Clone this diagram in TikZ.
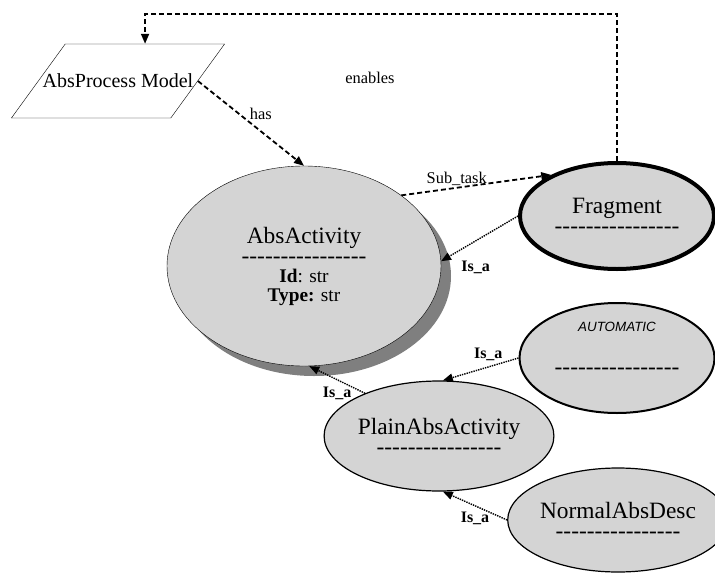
\documentclass[tikz,border=0pt]{standalone}
\usepackage{fontspec}
\setmainfont{Liberation Serif}
\setsansfont{Liberation Sans}
\usetikzlibrary{shapes.geometric, shadows, arrows.meta}

\definecolor{classfill}{RGB}{212,212,212}
\newcommand{\dashrow}{-{}-{}-{}-{}-{}-{}-{}-{}-{}-{}-{}-{}-{}-{}-{}-}

\begin{document}
\begin{tikzpicture}[
  x=1pt, y=-1pt,
  cls/.style={ellipse, draw, fill=classfill, inner sep=0pt, align=center,
    font=\fontsize{23.4}{20}\selectfont},
  model/.style={trapezium, draw, trapezium left angle=54, trapezium right angle=126,
    inner xsep=-22.5pt, inner ysep=30pt, font=\fontsize{20}{24}\selectfont},
  lbl/.style={font=\fontsize{16.4}{18}\selectfont},
  isalbl/.style={font=\bfseries\fontsize{16}{18}\selectfont},
  rel/.style={->, >={Triangle[length=10pt, width=8pt]}, line width=1.8pt,
    dash pattern=on 5pt off 3pt},
  isa/.style={->, >={Triangle[length=10pt, width=8pt]}, line width=1.4pt,
    dash pattern=on 1.4pt off 1pt}
]
\useasboundingbox (0,0) rectangle (715,573);

% Nodes
\node[model] (proc) at (118,81) {AbsProcess Model};
\node[cls, minimum width=274pt, minimum height=200pt,
  drop shadow={shadow xshift=10pt, shadow yshift=-10pt, fill=black, opacity=.5}]
  (act) at (304,266)
  {AbsActivity\\ \dashrow\\[-1pt]
   {\fontsize{19.3}{19}\selectfont\textbf{Id}: str}\\[-1pt]
   {\fontsize{19.3}{19}\selectfont\textbf{Type:} str}};
\node[cls, line width=4pt, minimum width=194pt, minimum height=106pt] (frag) at (617,216)
  {Fragment\\ \dashrow};
\node[cls, line width=2pt, minimum width=195pt, minimum height=110pt] (auto) at (617,358)
  {{\sffamily\itshape\fontsize{13.4}{16}\selectfont AUTOMATIC}\\[23pt] \dashrow\\ \mbox{}};
\node[cls, line width=1.2pt, minimum width=200pt, minimum height=110pt] (plain) at (439,436)
  {PlainAbsActivity\\ \dashrow};
\node[cls, line width=1.2pt, minimum width=192pt, minimum height=104pt] (norm) at (618,520)
  {NormalAbsDesc\\ \dashrow};
\node[lbl] (enables) at (370,78) {enables};

% Arrows
\draw[rel] (proc.right side) -- (act.north) node[lbl, pos=0.45, above right=0pt, yshift=-5pt] {has};
\draw[rel] (act.36.5) -- (frag.148) node[lbl, pos=0.37, above=-2pt] {Sub\_task};
\draw[rel] (frag.north) -- ++(0,-147) -| (proc.top side);
\draw[isa] (frag.west) -- (act.2) node[isalbl, pos=0.55, below=16pt] {Is\_a};
\draw[isa] (auto.west) -- (plain.86) node[isalbl, pos=0.4, above=2pt] {Is\_a};
\draw[isa] (plain.150) -- (act.-87) node[isalbl, pos=0.5, below=3pt] {Is\_a};
\draw[isa] (norm.west) -- (plain.-86) node[isalbl, pos=0.5, below=2pt] {Is\_a};

\end{tikzpicture}
\end{document}
